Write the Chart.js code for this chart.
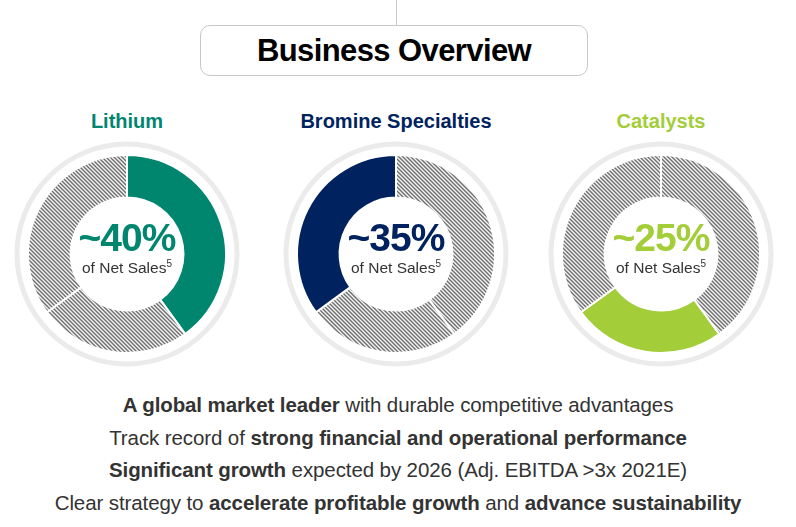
<!DOCTYPE html>
<html>
<head>
<meta charset="utf-8">
<script src="https://cdn.jsdelivr.net/npm/chart.js@4"></script>
<style>
  body { margin: 0; background: #fff; font-family: "Liberation Sans", Arial, sans-serif; }
  #page { position: relative; width: 796px; height: 527px; overflow: hidden; }
  .stem { position: absolute; left: 396px; top: 0; width: 1px; height: 25px; background: #c8c8c8; }
  .titlebox { position: absolute; left: 200px; top: 25px; width: 386px; height: 49px;
    border: 1.5px solid #c8c8c8; border-radius: 10px; text-align: center;
    font-weight: bold; font-size: 31px; line-height: 49px; color: #000; letter-spacing: -0.6px; }
  .seg { position: absolute; width: 240px; height: 240px; }
  .segtitle { position: absolute; width: 260px; text-align: center; font-weight: bold; font-size: 20px; }
  .big { position: absolute; width: 160px; text-align: center; font-weight: bold; font-size: 39px; letter-spacing: -1px; }
  .small { position: absolute; width: 160px; text-align: center; font-size: 15.5px; color: #333; }
  .small sup { font-size: 10px; }
  .lines { position: absolute; left: 0; top: 389px; width: 796px; text-align: center; color: #333; font-size: 20.5px; line-height: 32.5px; letter-spacing: -0.1px; }
</style>
</head>
<body>
<div id="page">
  <div class="stem"></div>
  <div class="titlebox">Business Overview</div>
  <div id="holders"></div>
  <div class="lines">
    <div><b>A global market leader</b> with durable competitive advantages</div>
    <div>Track record of <b>strong financial and operational performance</b></div>
    <div><b>Significant growth</b> expected by 2026 (Adj. EBITDA &gt;3x 2021E)</div>
    <div>Clear strategy to <b>accelerate profitable growth</b> and <b>advance sustainability</b></div>
  </div>
</div>
<script>
// segment shares of net sales, clockwise from 12 o'clock
const segments = ['Lithium', 'Catalysts', 'Bromine Specialties'];
const shares = [40, 25, 35];
const segColors = ['#00866f', '#a3cd39', '#002360'];
// which segment each donut highlights, left to right
const panelOrder = [0, 2, 1];
const panelCenters = [127, 396, 661];
const centerY = 254;

function hatch() {
    const c = document.createElement('canvas');
    c.width = 4; c.height = 4;
    const g = c.getContext('2d');
    g.fillStyle = '#f4f4f4';
    g.fillRect(0, 0, 4, 4);
    g.strokeStyle = '#6f6f6f';
    g.lineWidth = 1.4;
    g.beginPath();
    g.moveTo(-1, -1); g.lineTo(5, 5);
    g.moveTo(-1, 3); g.lineTo(1, 5);
    g.moveTo(3, -1); g.lineTo(5, 1);
    g.stroke();
    return g.createPattern(c, 'repeat');
}

// light grey ring round each donut
const ringPlugin = {
    id: 'ring',
    beforeDraw(chart) {
        const ctx = chart.ctx;
        const meta = chart.getDatasetMeta(0).data[0];
        ctx.save();
        ctx.strokeStyle = '#ebebeb';
        ctx.lineWidth = 5;
        ctx.beginPath();
        ctx.arc(meta.x, meta.y, meta.outerRadius + 11, 0, Math.PI * 2);
        ctx.stroke();
        ctx.restore();
    }
};

const holders = document.getElementById('holders');
const pat = hatch();

panelOrder.forEach((idx, i) => {
    const cx = panelCenters[i];
    const title = document.createElement('div');
    title.className = 'segtitle';
    title.style.left = (cx - 130) + 'px';
    title.style.top = '110px';
    title.style.color = segColors[idx];
    title.textContent = segments[idx];
    holders.appendChild(title);

    const box = document.createElement('div');
    box.className = 'seg';
    box.style.left = (cx - 120) + 'px';
    box.style.top = (centerY - 120) + 'px';
    const cv = document.createElement('canvas');
    cv.width = 240; cv.height = 240;
    box.appendChild(cv);
    holders.appendChild(box);

    const big = document.createElement('div');
    big.className = 'big';
    big.style.left = (cx - 80) + 'px';
    big.style.top = (centerY - 38) + 'px';
    big.style.color = segColors[idx];
    big.textContent = '~' + shares[idx] + '%';
    holders.appendChild(big);

    const small = document.createElement('div');
    small.className = 'small';
    small.style.left = (cx - 80) + 'px';
    small.style.top = (centerY + 4) + 'px';
    small.innerHTML = 'of Net Sales<sup>5</sup>';
    holders.appendChild(small);

    new Chart(cv, {
        type: 'doughnut',
        data: {
            labels: segments,
            datasets: [{
                data: shares,
                backgroundColor: segments.map((s, k) => k === idx ? segColors[k] : pat),
                borderColor: '#ffffff',
                borderWidth: 2
            }]
        },
        options: {
            responsive: false,
            animation: false,
            cutout: '57%',
            layout: { padding: 20 },
            plugins: { legend: { display: false }, tooltip: { enabled: false } }
        },
        plugins: [ringPlugin]
    });
});
</script>
</body>
</html>
